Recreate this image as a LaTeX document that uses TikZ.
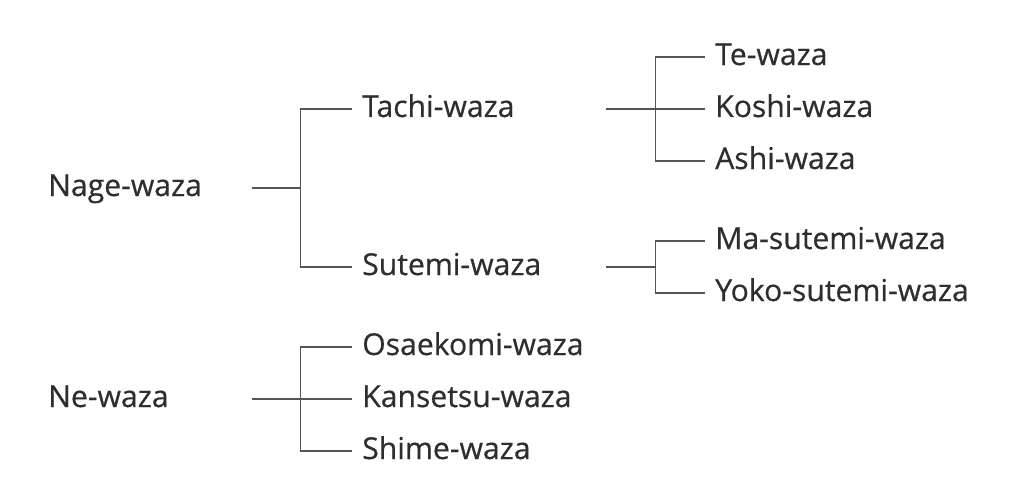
\documentclass[tikz,border=0pt]{standalone}
\usepackage{fontspec}
\setmainfont{Open Sans}
\newfontfamily\wazafont{Open Sans}[FakeBold=0.5]
\usepackage{tikz}
\usetikzlibrary{positioning}
\definecolor{textgray}{HTML}{2E2E2E}
\definecolor{linegray}{HTML}{555555}
\tikzset{waza/.style={anchor=west, inner xsep=7.5pt, inner ysep=0pt, text height=16pt, text depth=4pt, font=\wazafont\fontsize{22.6}{26}\selectfont, text=textgray}}
\tikzset{rootwaza/.style={waza, text width=144.75pt, align=left}}
\tikzset{midwaza/.style={waza, text width=174.75pt, align=left}}
\tikzset{branch/.style={draw=linegray, line width=1.2pt}}

\begin{document}
\begin{tikzpicture}[x=0.75pt, y=-0.75pt]
\useasboundingbox (0,0) rectangle (1024,492);
\node[rootwaza] (nage) at (38,188) {Nage-waza};
\node[rootwaza] (ne) at (38,399) {Ne-waza};
\node[midwaza] (tachi) at (352,109) {Tachi-waza};
\node[midwaza] (sutemi) at (352,267) {Sutemi-waza};
\node[waza] (osaekomi) at (352,347) {Osaekomi-waza};
\node[waza] (kansetsu) at (352,399) {Kansetsu-waza};
\node[waza] (shime) at (352,451) {Shime-waza};
\node[waza] (te) at (705,57) {Te-waza};
\node[waza] (koshi) at (705,109) {Koshi-waza};
\node[waza] (ashi) at (705,161) {Ashi-waza};
\node[waza] (ma) at (705,241) {Ma-sutemi-waza};
\node[waza] (yoko) at (705,293) {Yoko-sutemi-waza};
% nage-waza
\draw[branch] (nage.east) -- ++(49,0) coordinate (nagej);
\draw[branch] (tachi.west) -| (nagej) |- (sutemi.west);
\draw[branch] (tachi.east) -- (koshi.west);
\path (tachi.east) ++(50,0) coordinate (tachij);
\draw[branch] (te.west) -| (tachij) |- (ashi.west);
\draw[branch] (sutemi.east) -- ++(50,0) coordinate (sutemij);
\draw[branch] (ma.west) -| (sutemij) |- (yoko.west);
% ne-waza
\draw[branch] (ne.east) -- (kansetsu.west);
\path (ne.east) ++(49,0) coordinate (nej);
\draw[branch] (osaekomi.west) -| (nej) |- (shime.west);
\end{tikzpicture}
\end{document}
